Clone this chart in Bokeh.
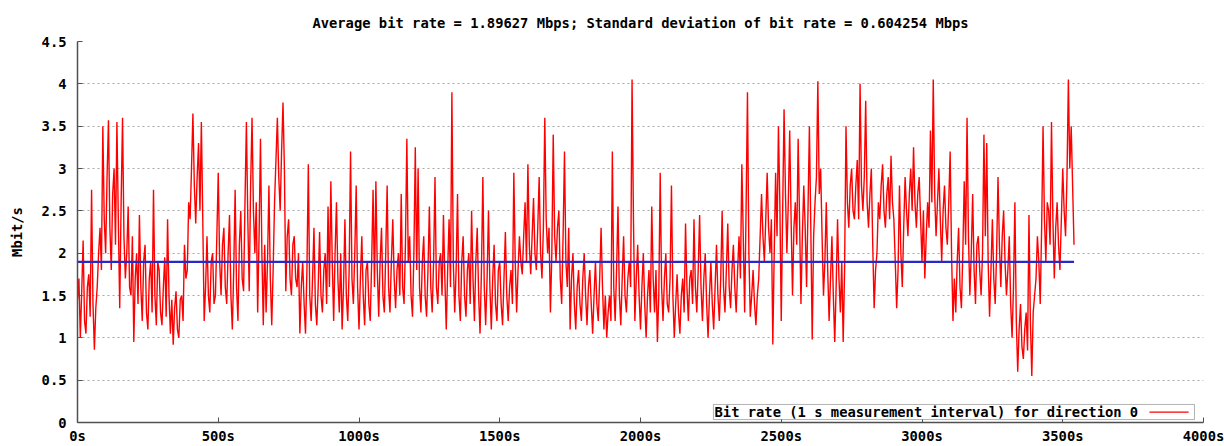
from bokeh.plotting import figure
from bokeh.models import Range1d, FixedTicker, PrintfTickFormatter, BoxAnnotation, Label
from bokeh.embed import file_html
from bokeh.resources import INLINE

title_text = "Average bit rate = 1.89627 Mbps; Standard deviation of bit rate = 0.604254 Mbps"
avg_rate = 1.89627
y_label = "Mbit/s"
legend_label = "Bit rate (1 s measurement interval) for direction 0"

# bit rate (Mbit/s), one value every 5 s (one row = 100 s)
step_s = 5
rate = [
    1.45, 1.7, 1.0, 1.55, 2.15, 1.2, 1.05, 1.6, 1.75, 1.25, 2.75, 1.4, 0.86, 1.35, 1.6, 2.0, 2.3, 1.8, 3.5, 2.4,
    2.0, 2.9, 3.57, 2.3, 1.8, 2.7, 3.0, 2.1, 3.55, 2.4, 1.35, 2.6, 3.6, 2.2, 1.7, 2.0, 2.55, 1.6, 1.5, 2.2,
    0.95, 1.7, 2.0, 1.4, 2.45, 1.6, 1.2, 1.9, 2.1, 1.3, 1.1, 1.7, 1.9, 1.3, 2.75, 1.5, 1.15, 1.9, 1.8, 1.3,
    1.15, 1.6, 1.95, 1.25, 2.4, 1.5, 1.05, 1.45, 0.92, 1.35, 1.55, 1.1, 1.0, 1.45, 1.5, 1.2, 2.1, 1.7, 1.8, 2.6,
    2.4, 3.0, 3.65, 2.8, 2.35, 2.9, 3.3, 2.5, 3.55, 2.4, 1.2, 1.6, 2.2, 1.5, 1.3, 1.9, 2.0, 1.4, 1.5, 2.2,
    2.95, 1.9, 1.5, 2.1, 2.3, 1.6, 1.4, 2.0, 2.45, 1.5, 1.1, 1.8, 2.75, 1.6, 1.2, 2.1, 2.5, 1.7, 1.55, 2.6,
    3.55, 2.4, 1.55, 2.8, 3.6, 2.5, 2.0, 2.6, 1.3, 2.2, 3.35, 2.0, 1.15, 2.1, 1.3, 1.9, 2.8, 1.7, 1.15, 1.8,
    2.6, 3.1, 3.6, 2.9, 2.5, 3.2, 3.78, 3.0, 1.55, 2.2, 2.4, 1.7, 1.5, 2.1, 2.2, 1.7, 1.6, 2.0, 1.05, 1.6,
    1.9, 1.4, 1.05, 1.8, 3.05, 1.5, 1.2, 1.7, 2.3, 1.4, 1.15, 1.6, 2.25, 1.5, 1.3, 1.8, 2.0, 1.4, 2.55, 1.6,
    2.85, 1.9, 1.2, 2.0, 2.6, 1.7, 1.3, 2.0, 1.1, 1.6, 2.4, 1.5, 1.2, 1.8, 3.2, 1.7, 1.4, 2.0, 2.8, 1.6,
    1.1, 1.7, 2.2, 1.5, 1.15, 1.8, 1.9, 1.4, 1.2, 1.9, 2.75, 1.6, 2.85, 1.8, 1.25, 1.9, 2.3, 1.5, 1.3, 2.0,
    2.8, 1.6, 1.3, 1.9, 2.4, 1.7, 1.35, 1.8, 2.0, 1.5, 2.7, 1.6, 1.4, 2.1, 3.35, 1.9, 2.2, 1.5, 1.25, 2.0,
    3.25, 1.8, 3.0, 1.6, 1.3, 1.9, 2.2, 1.5, 1.25, 1.8, 2.55, 1.6, 1.3, 1.9, 2.9, 1.6, 1.4, 1.9, 2.0, 1.5,
    2.45, 1.7, 1.1, 1.8, 2.4, 1.6, 3.9, 1.9, 1.3, 1.8, 2.7, 1.5, 1.2, 1.9, 2.2, 1.5, 1.25, 1.8, 2.0, 1.4,
    2.5, 1.7, 1.2, 1.9, 2.3, 1.5, 1.05, 1.8, 2.9, 1.6, 1.15, 1.7, 2.5, 1.6, 1.1, 1.7, 2.1, 1.4, 1.2, 1.8,
    1.9, 1.4, 1.15, 1.7, 2.25, 1.5, 1.2, 1.6, 1.8, 1.4, 2.95, 1.9, 1.3, 1.8, 2.2, 1.9, 1.75, 2.2, 2.6, 1.9,
    3.05, 2.1, 1.75, 2.2, 2.65, 2.0, 1.8, 2.3, 2.9, 2.0, 1.7, 2.3, 3.6, 2.4, 2.0, 2.3, 1.3, 2.0, 3.4, 2.2,
    1.9, 2.3, 2.5, 1.7, 1.4, 2.2, 3.2, 1.9, 1.6, 2.3, 1.1, 1.7, 2.0, 1.4, 1.1, 1.6, 1.8, 1.4, 1.2, 1.7,
    2.0, 1.5, 1.15, 1.6, 1.8, 1.4, 1.05, 1.5, 1.9, 1.4, 1.2, 1.7, 2.3, 1.6, 1.1, 1.5, 1.0, 1.3, 1.5, 1.2,
    3.2, 1.6, 1.2, 1.8, 2.55, 1.5, 1.15, 1.7, 2.2, 1.5, 1.3, 1.7, 1.9, 1.6, 4.05, 2.4, 1.2, 1.7, 2.1, 1.5,
    1.1, 1.6, 2.0, 1.4, 1.0, 1.5, 1.8, 1.3, 2.55, 1.7, 1.3, 1.8, 0.95, 1.5, 2.95, 1.6, 1.2, 1.7, 2.0, 1.4,
    1.3, 1.7, 2.8, 1.5, 1.0, 1.4, 1.75, 1.3, 1.05, 1.5, 1.7, 1.3, 2.35, 1.6, 1.2, 1.7, 1.8, 1.4, 2.4, 1.6,
    1.3, 1.8, 2.45, 1.6, 1.2, 1.7, 2.0, 1.4, 1.0, 1.5, 1.9, 1.4, 1.1, 1.6, 2.1, 1.5, 1.2, 1.7, 2.5, 1.6,
    1.3, 1.8, 2.35, 1.6, 1.35, 1.8, 2.1, 1.6, 1.3, 1.8, 2.2, 1.7, 3.05, 2.2, 1.3, 2.5, 3.9, 2.0, 1.25, 1.5,
    1.8, 1.4, 1.15, 1.5, 1.7, 2.2, 2.7, 2.2, 1.9, 2.4, 2.95, 2.3, 2.0, 2.4, 0.92, 2.0, 2.95, 2.2, 3.5, 2.6,
    1.2, 2.5, 3.7, 2.7, 2.0, 2.6, 3.45, 2.4, 1.5, 2.3, 2.6, 2.1, 3.35, 2.4, 1.4, 2.2, 2.8, 2.3, 1.6, 2.5,
    3.5, 2.3, 0.98, 2.2, 2.6, 2.9, 4.03, 2.7, 3.0, 2.2, 1.5, 1.9, 2.6, 1.8, 1.2, 1.7, 2.2, 1.5, 0.95, 1.6,
    2.4, 1.7, 1.3, 1.9, 0.95, 1.8, 3.5, 2.6, 2.3, 2.8, 3.0, 2.5, 2.4, 2.8, 3.1, 2.4, 4.0, 2.8, 2.5, 2.9,
    3.8, 2.6, 2.3, 2.7, 3.0, 2.1, 1.35, 1.8, 2.0, 2.6, 2.4, 2.8, 3.05, 2.5, 2.3, 2.7, 2.9, 2.4, 3.15, 2.6,
    2.4, 1.9, 1.35, 1.8, 2.8, 2.0, 1.6, 2.3, 2.9, 2.5, 2.2, 2.7, 3.0, 2.5, 3.25, 2.6, 2.3, 2.7, 2.9, 2.4,
    1.9, 2.5, 1.7, 2.2, 2.6, 2.3, 3.45, 2.6, 4.05, 2.7, 2.2, 2.6, 3.0, 2.4, 1.9, 2.5, 2.8, 2.3, 2.1, 2.6,
    3.2, 2.0, 1.2, 1.7, 1.3, 1.9, 2.3, 1.6, 1.35, 2.0, 2.85, 2.1, 3.6, 2.2, 1.5, 2.0, 2.7, 1.8, 1.4, 2.1,
    2.2, 1.8, 1.5, 2.0, 3.4, 2.2, 3.3, 1.9, 1.25, 1.8, 2.4, 1.7, 1.4, 2.0, 2.9, 2.1, 1.6, 2.2, 2.5, 1.9,
    1.5, 1.8, 2.2, 1.4, 1.0, 1.6, 2.6, 1.2, 0.6, 1.1, 1.4, 0.9, 0.75, 1.1, 1.3, 0.85, 2.45, 1.2, 0.55, 1.3,
    1.5, 1.7, 2.2, 1.9, 1.4, 2.3, 3.5, 2.4, 1.9, 2.6, 2.5, 2.1, 3.55, 2.4, 1.7, 2.3, 2.6, 2.1, 1.8, 2.4,
    3.0, 2.5, 2.2, 2.9, 4.05, 3.0, 3.5, 2.8, 2.1,
]
time_s = [i * step_s for i in range(len(rate))]

x_ticks = [0, 500, 1000, 1500, 2000, 2500, 3000, 3500, 4000]
y_ticks = [0, 0.5, 1, 1.5, 2, 2.5, 3, 3.5, 4, 4.5]
y_tick_labels = ["0", "0.5", "1", "1.5", "2", "2.5", "3", "3.5", "4", "4.5"]

FONT = "DejaVu Sans Mono"
FS = "13.8px"

p = figure(width=1224, height=446, output_backend="svg", toolbar_location=None,
           x_range=Range1d(0, 4000), y_range=Range1d(0, 4.5),
           min_border_left=77, min_border_right=21, min_border_top=41, min_border_bottom=24)
p.outline_line_color = None
p.background_fill_color = "white"
p.border_fill_color = "white"

p.title.text = title_text
p.title.align = "center"
p.title.vertical_align = "top"
p.title.text_font = FONT
p.title.text_font_size = FS
p.title.text_font_style = "bold"
p.title.text_color = "black"
p.title.standoff = 18

p.xgrid.grid_line_color = None
p.ygrid.grid_line_color = "#a8a8a8"
p.ygrid.grid_line_dash = "2 3"
p.ygrid.grid_line_width = 1

for ax in (p.xaxis[0], p.yaxis[0]):
    ax.axis_line_color = "#505050"
    ax.axis_line_width = 1.5
    ax.major_tick_line_color = "#505050"
    ax.major_tick_in = 5
    ax.major_tick_out = 0
    ax.minor_tick_line_color = None
    ax.major_label_text_font = FONT
    ax.major_label_text_font_size = FS
    ax.major_label_text_font_style = "bold"
    ax.major_label_text_color = "black"

p.xaxis.ticker = FixedTicker(ticks=x_ticks)
p.xaxis.formatter = PrintfTickFormatter(format="%ds")
p.xaxis.major_label_standoff = 5

p.yaxis.ticker = FixedTicker(ticks=y_ticks)
p.yaxis.major_label_overrides = {t: s for t, s in zip(y_ticks, y_tick_labels)}
p.yaxis.major_label_standoff = 11
p.yaxis.axis_label = y_label
p.yaxis.axis_label_text_font = FONT
p.yaxis.axis_label_text_font_size = FS
p.yaxis.axis_label_text_font_style = "bold"
p.yaxis.axis_label_text_color = "black"
p.yaxis.axis_label_standoff = 14

p.line(time_s, rate, line_color="#ff0000", line_width=1.4)
p.line([time_s[0], time_s[-1]], [avg_rate, avg_rate], line_color="#2828c8", line_width=2.2)

# legend box (text first, then the sample line, as in the original)
leg = dict(left=2259, right=3968, bottom=0.035, top=0.213, text_y=0.122, s0=3808, s1=3947)
p.add_layout(BoxAnnotation(left=leg["left"], right=leg["right"], bottom=leg["bottom"], top=leg["top"],
                           fill_color="white", fill_alpha=1, line_color="black", line_width=1,
                           level="annotation"))
p.add_layout(Label(x=leg["left"] + 4, y=leg["text_y"], text=legend_label, text_font=FONT,
                   text_font_size=FS, text_font_style="bold", text_baseline="middle",
                   text_color="black", level="overlay"))
p.segment(x0=[leg["s0"]], y0=[leg["text_y"]], x1=[leg["s1"]], y1=[leg["text_y"]],
          line_color="#ff0000", line_width=1.2, level="overlay")

open("out.html", "w").write(file_html(p, INLINE))
